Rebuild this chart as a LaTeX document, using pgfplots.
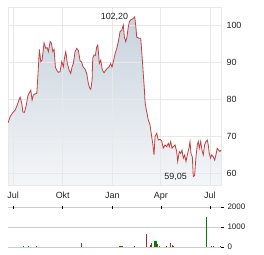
\documentclass[border=0pt]{standalone}
\usepackage{fontspec}
\setmainfont{Liberation Sans}
\usepackage{pgfplots}
\usepackage{pgfplotstable}
\pgfplotsset{compat=1.18}
\definecolor{priceline}{RGB}{196,64,64}
\definecolor{filltop}{RGB}{200,211,221}
\definecolor{fillbot}{RGB}{244,246,248}
\definecolor{gridmain}{RGB}{232,232,232}
\definecolor{gridvol}{RGB}{204,204,204}
\definecolor{volred}{RGB}{178,34,34}
\definecolor{volgreen}{RGB}{0,128,0}
\definecolor{labtxt}{RGB}{34,34,34}

\pgfplotstableread{
day val
-9.3 73.6
-5.6 75.2
-0.6 76.3
3.7 77.0
6.9 78.1
9.8 79.3
13.0 80.5
16.1 78.8
18.0 76.5
20.9 76.4
24.1 78.1
27.2 80.8
30.2 81.7
32.8 82.4
35.2 79.7
37.6 81.1
40.8 81.4
43.9 81.5
45.8 86.0
48.7 93.4
51.3 90.1
53.7 90.5
57.4 95.2
60.6 93.7
63.0 93.9
65.4 92.8
68.6 95.5
71.0 95.1
73.6 92.8
76.0 93.4
78.4 88.6
81.0 87.8
83.9 87.2
87.1 87.4
90.2 90.1
93.2 88.7
95.1 91.0
97.7 92.8
100.6 89.6
103.8 87.8
106.9 86.9
109.3 88.7
111.7 89.6
114.9 92.8
118.0 93.7
121.0 93.1
124.2 90.3
126.9 90.0
129.7 88.7
133.4 88.1
136.6 86.8
139.5 84.2
141.8 83.0
144.0 82.6
146.4 85.1
147.7 91.1
150.1 91.9
152.5 91.8
155.1 94.1
157.0 94.6
159.9 89.6
162.5 90.5
165.5 87.8
168.6 87.1
171.8 87.8
174.7 88.3
177.9 88.7
181.0 89.6
183.4 88.6
185.9 90.1
189.0 92.2
192.2 93.7
195.1 95.5
198.3 98.2
201.4 98.6
204.4 100.0
206.2 96.8
208.8 95.5
210.7 96.4
213.6 99.5
215.5 100.9
218.1 101.4
221.1 101.6
222.9 101.8
225.5 102.2
227.9 99.1
229.2 96.7
234.0 96.4
236.6 96.4
238.5 92.8
240.3 89.2
241.5 86.5
243.3 82.9
244.6 79.3
246.4 77.5
248.9 75.7
250.7 74.3
253.9 73.0
257.0 69.8
258.9 68.0
261.3 64.9
263.2 69.8
266.3 70.7
269.3 68.9
272.4 69.1
275.5 68.7
278.5 66.7
281.7 67.6
284.8 67.1
287.8 68.0
289.6 67.1
292.2 68.5
294.6 66.7
297.0 67.1
300.2 67.6
303.3 65.8
305.2 63.1
308.2 65.8
310.7 65.3
313.2 66.2
315.6 64.0
318.2 64.9
320.6 63.1
323.0 64.9
326.1 66.7
328.0 68.5
329.8 65.3
332.3 64.4
334.1 59.05
336.5 59.3
339.1 64.4
341.5 67.6
343.4 68.5
345.2 66.7
347.8 68.5
350.2 66.2
352.6 64.9
355.2 67.6
357.6 68.5
360.0 68.9
361.9 67.6
363.7 65.3
366.3 64.0
368.2 64.9
371.1 64.4
373.7 63.5
376.1 64.9
378.5 66.7
381.1 66.2
383.5 65.8
385.4 66.2
}\pricetable

\pgfplotstableread{
day vol
126.6 200
198.3 50
247.0 670
254.4 120
257.0 200
267.4 150
271.1 70
292.2 200
295.2 80
368.2 70
371.9 60
}\volred

\pgfplotstableread{
day vol
19.1 50
28.4 50
43.2 50
202.0 50
224.8 50
261.8 320
265.0 280
284.8 70
297.8 60
358.2 1500
384.1 60
}\volgreen

\begin{document}
\begin{tikzpicture}
\begin{axis}[
  at={(0,0)}, anchor=south west,
  scale only axis, width=213bp, height=178bp,
  xmin=-9.5, xmax=385.5, ymin=56.76, ymax=104.86,
  xtick={0,92,184,274,365},
  xticklabels={Jul,Okt,Jan,Apr,Jul},
  ytick={60,70,80,90,100},
  yticklabel pos=right,
  grid=major,
  major grid style={draw=gridmain, line width=0.8bp},
  axis line style={draw=gridmain, line width=0.8bp},
  major tick length=0pt,
  /pgf/number format/assume math mode=true,
  ticklabel style={font=\fontsize{9}{10}\selectfont, text=labtxt},
  xticklabel style={yshift=-3.5bp},
  yticklabel style={xshift=2bp},
  set layers,
]
\addplot[draw=none, top color=filltop, bottom color=fillbot, on layer=axis background, forget plot] table[x=day,y=val] {\pricetable} -- (axis cs:385.4,56.76) -- (axis cs:-9.3,56.76) -- cycle;
\addplot[priceline, line width=0.8bp, mark=none] table[x=day,y=val] {\pricetable};
\node[anchor=east, xshift=-3bp, text=labtxt, font=\fontsize{9}{10}\selectfont] at (axis cs:225.5,102.2) {102,20};
\node[anchor=east, xshift=-3bp, text=labtxt, font=\fontsize{9}{10}\selectfont] at (axis cs:334.1,59.05) {59,05};
\end{axis}
\begin{axis}[
  at={(0,-22bp)}, anchor=north west,
  scale only axis, width=213bp, height=40bp,
  xmin=-9.5, xmax=385.5, ymin=0, ymax=2000,
  xtick={0,92,184,274,365},
  xticklabels={},
  xtick pos=upper,
  ytick={0,1000,2000},
  ytick pos=right,
  yticklabel pos=right,
  ymajorgrids,
  major grid style={draw=gridvol, line width=0.8bp},
  axis line style={draw=none},
  tick align=outside,
  major tick length=3bp,
  tick style={draw=black, line width=0.6bp},
  xtick style={yshift=-1.5bp},
  /pgf/number format/1000 sep={},
  /pgf/number format/assume math mode=true,
  ticklabel style={font=\fontsize{8}{9}\selectfont, text=labtxt},
]
\addplot[ycomb, volred, line width=1.2bp, mark=none] table[x=day,y=vol] {\volred};
\addplot[ycomb, volgreen, line width=1.2bp, mark=none] table[x=day,y=vol] {\volgreen};
\end{axis}
\path (-8bp,-70bp) rectangle (256bp,185bp);
\end{tikzpicture}
\end{document}
